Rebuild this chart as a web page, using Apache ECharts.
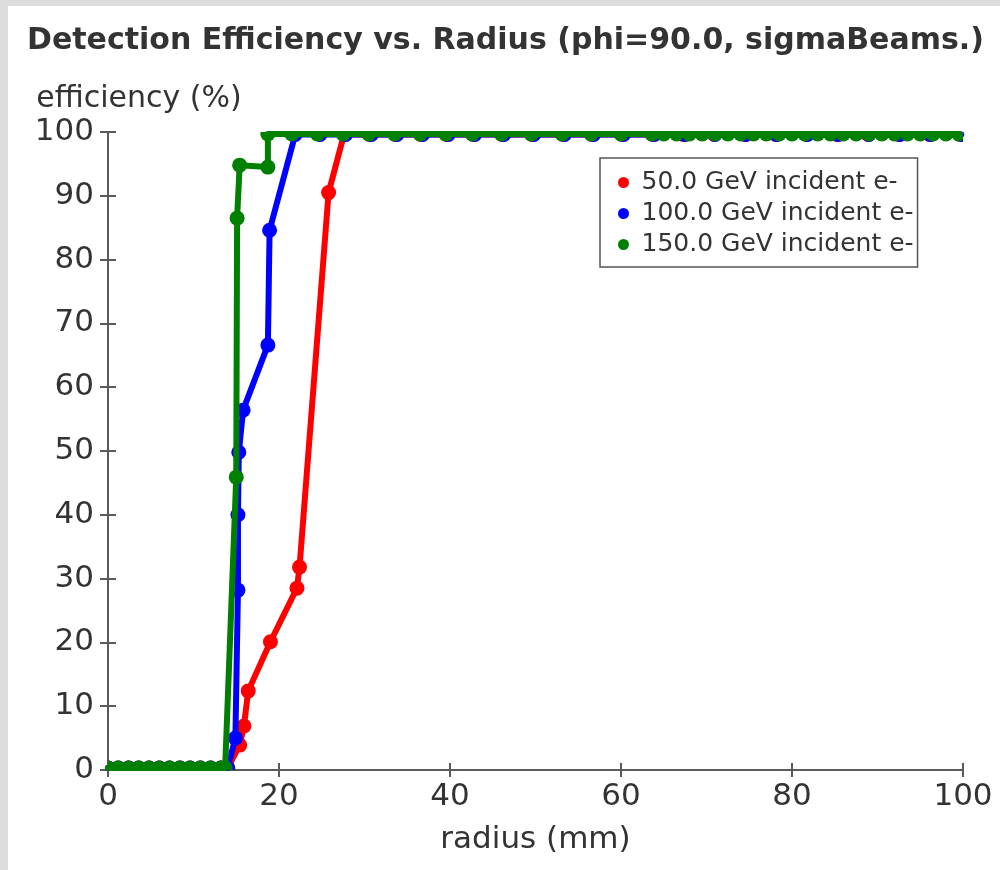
<!DOCTYPE html>
<html>
<head>
<meta charset="utf-8">
<script src="https://cdn.jsdelivr.net/npm/echarts@6/dist/echarts.min.js"></script>
<style>
  html, body { margin: 0; padding: 0; background: #dcdcdc; }
  #panel { position: absolute; left: 8px; top: 6px; width: 992px; height: 864px; background: #ffffff; }
  #chart { position: absolute; left: 0; top: 0; width: 1000px; height: 870px; }
</style>
</head>
<body>
<div id="panel"></div>
<div id="chart"></div>
<script>
// ---- data ----
const titleText = 'Detection Efficiency vs. Radius (phi=90.0, sigmaBeams.)';
const xAxisName = 'radius (mm)';
const yAxisName = 'efficiency (%)';
const seriesNames = ['50.0 GeV incident e-', '100.0 GeV incident e-', '150.0 GeV incident e-'];
const seriesColors = ['#ff0000', '#0000ff', '#008000'];

const radius50 = [0, 1.2, 2.4, 3.6, 4.8, 6.0, 7.2, 8.4, 9.6, 10.8, 12.0, 13.2, 14.0,
  15.4, 15.9, 16.4, 19.0, 22.1, 22.4, 25.8, 27.6,
  30.6, 33.6, 36.6, 39.6, 42.7, 46.1, 49.6, 53.2, 56.6, 60.1, 63.7, 67.3, 70.9,
  74.5, 78.1, 81.7, 85.3, 88.9, 92.5, 96.1, 99.7];
const eff50 = [0.3, 0.3, 0.3, 0.3, 0.3, 0.3, 0.3, 0.3, 0.3, 0.3, 0.3, 0.3, 0.3,
  3.9, 6.9, 12.4, 20.1, 28.5, 31.8, 90.5, 99.6,
  99.6, 99.6, 99.6, 99.6, 99.6, 99.6, 99.6, 99.6, 99.6, 99.6, 99.6, 99.6, 99.6,
  99.6, 99.6, 99.6, 99.6, 99.6, 99.6, 99.6, 99.6];

const radius100 = [0, 1.2, 2.4, 3.6, 4.8, 6.0, 7.2, 8.4, 9.6, 10.8, 12.0, 13.2, 14.0,
  14.9, 15.2, 15.2, 15.3, 15.8, 18.7, 18.9, 21.9,
  24.8, 27.8, 30.8, 33.8, 36.8, 39.8, 42.9, 46.3, 49.8, 53.4, 56.8, 60.3, 63.9,
  67.5, 71.0, 74.6, 78.2, 81.8, 85.4, 89.0, 92.6, 96.2, 99.8];
const eff100 = [0.3, 0.3, 0.3, 0.3, 0.3, 0.3, 0.3, 0.3, 0.3, 0.3, 0.3, 0.3, 0.3,
  5.0, 28.2, 40.0, 49.8, 56.4, 66.6, 84.6, 99.6,
  99.6, 99.6, 99.6, 99.6, 99.6, 99.6, 99.6, 99.6, 99.6, 99.6, 99.6, 99.6, 99.6,
  99.6, 99.6, 99.6, 99.6, 99.6, 99.6, 99.6, 99.6, 99.6, 99.6];

const radius150 = [0, 1.2, 2.4, 3.6, 4.8, 6.0, 7.2, 8.4, 9.6, 10.8, 12.0, 13.2, 13.7,
  15.0, 15.1, 15.4, 18.7, 18.7,
  21.5, 24.5, 27.5, 30.5, 33.5, 36.5, 39.5, 42.6, 46.0, 49.5, 53.1, 56.5, 60.0, 63.6,
  65.0, 66.5, 68.0, 69.5, 71.0, 72.5, 74.0, 75.5, 77.0, 78.5, 80.0, 81.5, 83.0,
  84.5, 86.0, 87.5, 89.0, 90.5, 92.0, 93.5, 95.0, 96.5, 98.0, 99.5];
const eff150 = [0.3, 0.3, 0.3, 0.3, 0.3, 0.3, 0.3, 0.3, 0.3, 0.3, 0.3, 0.3, 0.3,
  45.9, 86.5, 94.8, 94.5, 99.7,
  99.7, 99.7, 99.7, 99.7, 99.7, 99.7, 99.7, 99.7, 99.7, 99.7, 99.7, 99.7, 99.7, 99.7,
  99.7, 99.7, 99.7, 99.7, 99.7, 99.7, 99.7, 99.7, 99.7, 99.7, 99.7, 99.7, 99.7,
  99.7, 99.7, 99.7, 99.7, 99.7, 99.7, 99.7, 99.7, 99.7, 99.7, 99.7];

const xTicks = { min: 0, max: 100, interval: 20 };
const yTicks = { min: 0, max: 100, interval: 10 };

// ---- build ----
const FONT = 'DejaVu Sans';
const AXIS_COLOR = '#5a5a5a';
const TEXT_COLOR = '#333333';

function pairs(xs, ys) { return xs.map((x, i) => [x, ys[i]]); }

function dotRenderer(color) {
  return function (params, api) {
    const p = api.coord([api.value(0), api.value(1)]);
    return { type: 'circle', shape: { cx: p[0], cy: p[1], r: 7.5 }, style: { fill: color } };
  };
}

const allRadius = [radius50, radius100, radius150];
const allEff = [eff50, eff100, eff150];

const series = [];
seriesNames.forEach((name, i) => {
  const d = pairs(allRadius[i], allEff[i]);
  series.push({
    name: name, type: 'line', data: d, symbol: 'none', clip: true,
    color: seriesColors[i],
    itemStyle: { color: seriesColors[i] },
    lineStyle: { color: seriesColors[i], width: 6, cap: 'round', join: 'round' },
    z: 2 + i * 2
  });
  series.push({
    name: name, type: 'custom', data: d, clip: true,
    color: seriesColors[i],
    itemStyle: { color: seriesColors[i] },
    encode: { x: 0, y: 1 },
    renderItem: dotRenderer(seriesColors[i]),
    z: 3 + i * 2
  });
});

function axisCommon(ticks) {
  return {
    type: 'value', min: ticks.min, max: ticks.max, interval: ticks.interval,
    axisLine: { show: true, lineStyle: { color: AXIS_COLOR, width: 2 } },
    splitLine: { show: false }
  };
}

const option = {
  animation: false,
  title: {
    text: titleText, left: 22, top: 21,
    textStyle: { fontFamily: FONT, fontSize: 30, fontWeight: 'bold', color: TEXT_COLOR }
  },
  legend: {
    data: seriesNames, orient: 'vertical', left: 600, top: 158,
    icon: 'circle', itemWidth: 26, itemHeight: 11, itemGap: 6,
    borderColor: '#555', borderWidth: 1.5, padding: [12, 4, 10, 18],
    textStyle: { fontFamily: FONT, fontSize: 25, lineHeight: 24, color: TEXT_COLOR }
  },
  grid: { left: 108, right: 37, top: 132, bottom: 100, containLabel: false },
  xAxis: [
    Object.assign(axisCommon(xTicks), {
      position: 'bottom',
      name: xAxisName, nameLocation: 'middle', nameGap: 54,
      nameTextStyle: { fontFamily: FONT, fontSize: 31, color: TEXT_COLOR },
      axisTick: { show: true, inside: false, length: 7, lineStyle: { color: AXIS_COLOR, width: 2 } },
      axisLabel: { fontFamily: FONT, fontSize: 31, color: TEXT_COLOR, margin: 11 }
    }),
    Object.assign(axisCommon(xTicks), {
      position: 'bottom',
      axisTick: { show: true, inside: true, length: 7, lineStyle: { color: AXIS_COLOR, width: 2 } },
      axisLabel: { show: false }
    })
  ],
  yAxis: [
    Object.assign(axisCommon(yTicks), {
      position: 'left',
      name: yAxisName, nameLocation: 'end', nameGap: 18,
      nameTextStyle: { fontFamily: FONT, fontSize: 30, color: TEXT_COLOR, padding: [0, 0, 0, 62] },
      axisTick: { show: true, inside: false, length: 8, lineStyle: { color: AXIS_COLOR, width: 2 } },
      axisLabel: { fontFamily: FONT, fontSize: 31, color: TEXT_COLOR, margin: 14 }
    }),
    Object.assign(axisCommon(yTicks), {
      position: 'left',
      axisTick: { show: true, inside: true, length: 8, lineStyle: { color: AXIS_COLOR, width: 2 } },
      axisLabel: { show: false }
    })
  ],
  series: series
};

const chart = echarts.init(document.getElementById('chart'), null, { renderer: 'canvas' });
chart.setOption(option);
</script>
</body>
</html>
